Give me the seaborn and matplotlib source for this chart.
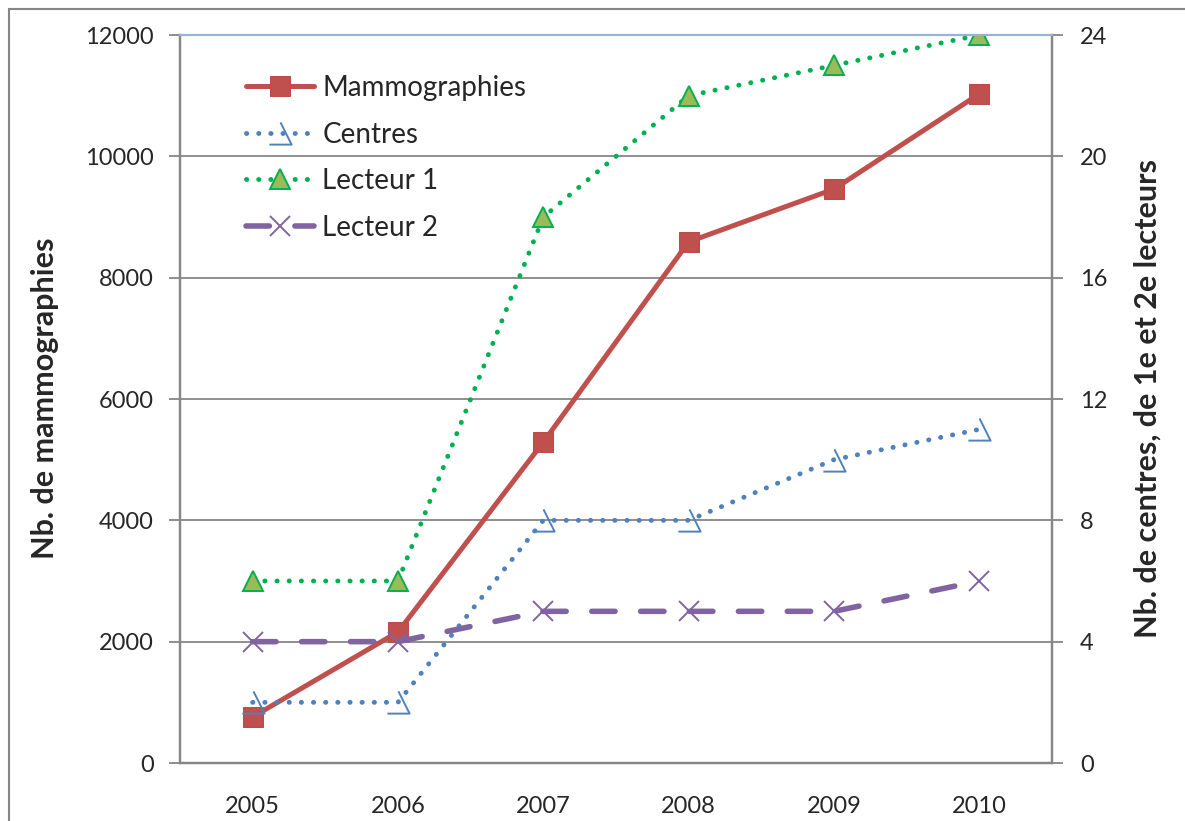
import matplotlib
matplotlib.use("Agg")
import matplotlib.pyplot as plt
from matplotlib.path import Path
from matplotlib.patches import Rectangle
import seaborn as sns
import pandas as pd

years = ["2005", "2006", "2007", "2008", "2009", "2010"]
mammographies = [760, 2160, 5290, 8590, 9460, 11030]
centres = [2, 2, 8, 8, 10, 11]
lecteur1 = [6, 6, 18, 22, 23, 24]
lecteur2 = [4, 4, 5, 5, 5, 6]

sns.set_theme(style="white")
plt.rcParams["font.family"] = ["Lato", "DejaVu Sans"]

df = pd.DataFrame({"x": range(len(years)), "Mammographies": mammographies,
                   "Centres": centres, "Lecteur 1": lecteur1, "Lecteur 2": lecteur2})

fig = plt.figure(figsize=(11.85, 8.21), dpi=100)
ax = fig.add_axes([180/1185, 1-763/821, (1052-180)/1185, (763-35)/821])
ax2 = ax.twinx()

grey = "#868686"
tfs = 17
ax.set_ylim(0, 12000)
ax.set_yticks(range(0, 12001, 2000))
ax.yaxis.grid(True, color=grey, lw=1.3)
ax.set_axisbelow(True)
ax2.set_ylim(0, 24)
ax2.set_yticks(range(0, 25, 4))
ax.set_xlim(-0.5, 5.5)
ax.set_xticks([i - 0.5 for i in range(7)], minor=False)
ax.set_xticklabels([])
ax.set_xticks(range(6), minor=True)
ax.set_xticklabels(years, minor=True)
ax.tick_params(axis="x", which="major", length=8, color=grey, width=1.3, direction="out")
ax.tick_params(axis="x", which="minor", length=0, pad=24, labelsize=tfs)
ax.tick_params(axis="y", length=8, color=grey, width=1.3, direction="out", pad=11, labelsize=tfs)
ax2.tick_params(axis="y", length=8, color=grey, width=1.3, direction="out", pad=12, labelsize=tfs)

for a in (ax, ax2):
    for s in ("left", "right", "bottom"):
        a.spines[s].set_color(grey)
        a.spines[s].set_linewidth(1.6)
    a.spines["top"].set_color("#95B3D7")
    a.spines["top"].set_linewidth(1.5)

centre_marker = Path([(-0.5, -0.5), (0.5, -0.5), (0.0, 0.5)],
                     [Path.MOVETO, Path.LINETO, Path.LINETO])

sns.lineplot(data=df, x="x", y="Mammographies", ax=ax, color="#C0504D", lw=3.6,
             marker="s", markersize=15, markerfacecolor="#C0504D",
             markeredgecolor="#BE4B48", label="Mammographies", legend=False)
sns.lineplot(data=df, x="x", y="Centres", ax=ax2, color="#4F81BD", lw=3.5,
             linestyle=(0, (0.05, 2.45)), dash_capstyle="round",
             marker=centre_marker, markersize=16, markerfacecolor="none",
             markeredgecolor="#4F81BD", markeredgewidth=1.4, label="Centres", legend=False)
sns.lineplot(data=df, x="x", y="Lecteur 1", ax=ax2, color="#00B050", lw=3.5,
             linestyle=(0, (0.05, 2.45)), dash_capstyle="round",
             marker="^", markersize=15, markerfacecolor="#9BBB59",
             markeredgecolor="#00B050", markeredgewidth=1.4, label="Lecteur 1", legend=False)
sns.lineplot(data=df, x="x", y="Lecteur 2", ax=ax2, color="#8064A2", lw=4,
             linestyle=(0, (4.2, 4.6)), dash_capstyle="round",
             marker="x", markersize=14, markeredgecolor="#8064A2",
             markeredgewidth=1.4, label="Lecteur 2", legend=False)

for a in (ax, ax2):
    a.set_xlabel("")
    a.set_ylabel("")
ax2.set_xlim(-0.5, 5.5)

fig.text(45/1185, 1-398/821, "Nb. de mammographies", rotation=90, ha="center",
         va="center", fontsize=22, fontweight="bold")
fig.text(1148/1185, 1-398/821, "Nb. de centres, de 1e et 2e lecteurs", rotation=90,
         ha="center", va="center", fontsize=22, fontweight="bold")

h1, lab1 = ax.get_legend_handles_labels()
h2, lab2 = ax2.get_legend_handles_labels()
ax2.legend(h1 + h2, lab1 + lab2, loc="upper left",
           bbox_to_anchor=(221/1185, 1-50/821), bbox_transform=fig.transFigure,
           frameon=False, fontsize=20, handlelength=2.45, labelspacing=0.74,
           handletextpad=0.3)

fig.patches.append(Rectangle((9/1185, -0.1), 1.2, 1 - 9/821 + 0.1,
                             transform=fig.transFigure, fill=False,
                             edgecolor=grey, lw=1.5))

fig.savefig("out.png", dpi=100)
